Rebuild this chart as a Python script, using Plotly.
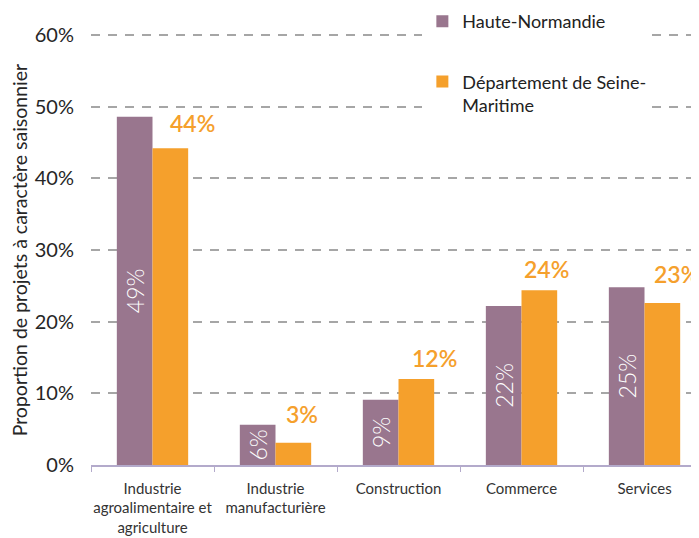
import plotly.graph_objects as go

categories = ["Industrie<br>agroalimentaire et<br>agriculture", "Industrie<br>manufacturière",
              "Construction", "Commerce", "Services"]
haute_normandie = [48.6, 5.6, 9.1, 22.2, 24.8]
seine_maritime = [44.2, 3.1, 12.0, 24.4, 22.6]
y_ticks = [0, 10, 20, 30, 40, 50, 60]
y_tick_labels = [f"{v}%" for v in y_ticks]
y_title = "Proportion de projets à caractère saisonnier"

PURPLE = "#99768e"
ORANGE = "#f5a02c"
FONT = "Lato"

# pixel nudges for the orange value labels (styling only)
label_dx = [40, 26, 36, 25, 32]
label_dy = [9, 13, 5, 5, 13]

fig = go.Figure()
fig.add_trace(go.Bar(
    x=categories, y=haute_normandie, name="Haute-Normandie",
    marker=dict(color=PURPLE, line=dict(width=0)),
    text=[f"{round(v)}%" for v in haute_normandie],
    textposition="inside", insidetextanchor="middle", textangle=-90,
    textfont=dict(color="white", size=23, family=FONT, weight=300),
    legendgroup="a", hoverinfo="skip",
))
fig.add_trace(go.Bar(
    x=categories, y=seine_maritime, name="Département de Seine-<br>Maritime",
    marker=dict(color=ORANGE, line=dict(width=0)),
    legendgroup="b", hoverinfo="skip",
))

for i, (c, v) in enumerate(zip(categories, seine_maritime)):
    fig.add_annotation(
        x=c, y=v, xref="x", yref="y", text=f"{round(v)}%", showarrow=False,
        xanchor="center", yanchor="bottom", xshift=label_dx[i], yshift=label_dy[i],
        font=dict(color=ORANGE, size=23, family=FONT, weight=600),
    )

# y-axis title
fig.add_annotation(
    x=-0.117, y=0.5, xref="paper", yref="paper", text=y_title, showarrow=False,
    textangle=-90, xanchor="center", yanchor="middle",
    font=dict(size=19.5, family=FONT, color="#262626"),
)

# the page adds an 8px body margin, so the figure is 8px smaller and shifted
fig.update_layout(
    width=691, height=530,
    margin=dict(l=83, r=0, t=26, b=73, autoexpand=False),
    paper_bgcolor="white", plot_bgcolor="white",
    barmode="group", bargap=0.42, bargroupgap=0,
    font=dict(family=FONT, color="#262626"),
    legend=dict(
        x=0.545, y=1.072, xanchor="left", yanchor="top",
        bgcolor="white", font=dict(size=18, family=FONT, color="#222222"),
        traceorder="grouped", tracegroupgap=34, valign="top",
        itemclick=False, itemdoubleclick=False,
    ),
    showlegend=True,
)
fig.update_xaxes(
    range=[-0.5, 4.443], showline=True, linecolor="#b3aacb", linewidth=1.5,
    ticks="outside", tickson="boundaries", ticklen=5, tickcolor="#b3aacb",
    tickangle=0, automargin=False, ticklabelstandoff=9,
    tickfont=dict(size=15, family=FONT, color="#333333"),
    showgrid=False, fixedrange=True,
)
fig.update_yaxes(
    range=[0, 60.15], tickvals=y_ticks, ticktext=y_tick_labels,
    tickfont=dict(size=20, family=FONT, color="#262626"),
    showgrid=True, gridcolor="#a6a6a6", gridwidth=1.5, griddash="9px,8px",
    zeroline=False, showline=False, ticklabelstandoff=16, automargin=False,
    fixedrange=True,
)

fig.write_html("out.html", config={"displayModeBar": False})
